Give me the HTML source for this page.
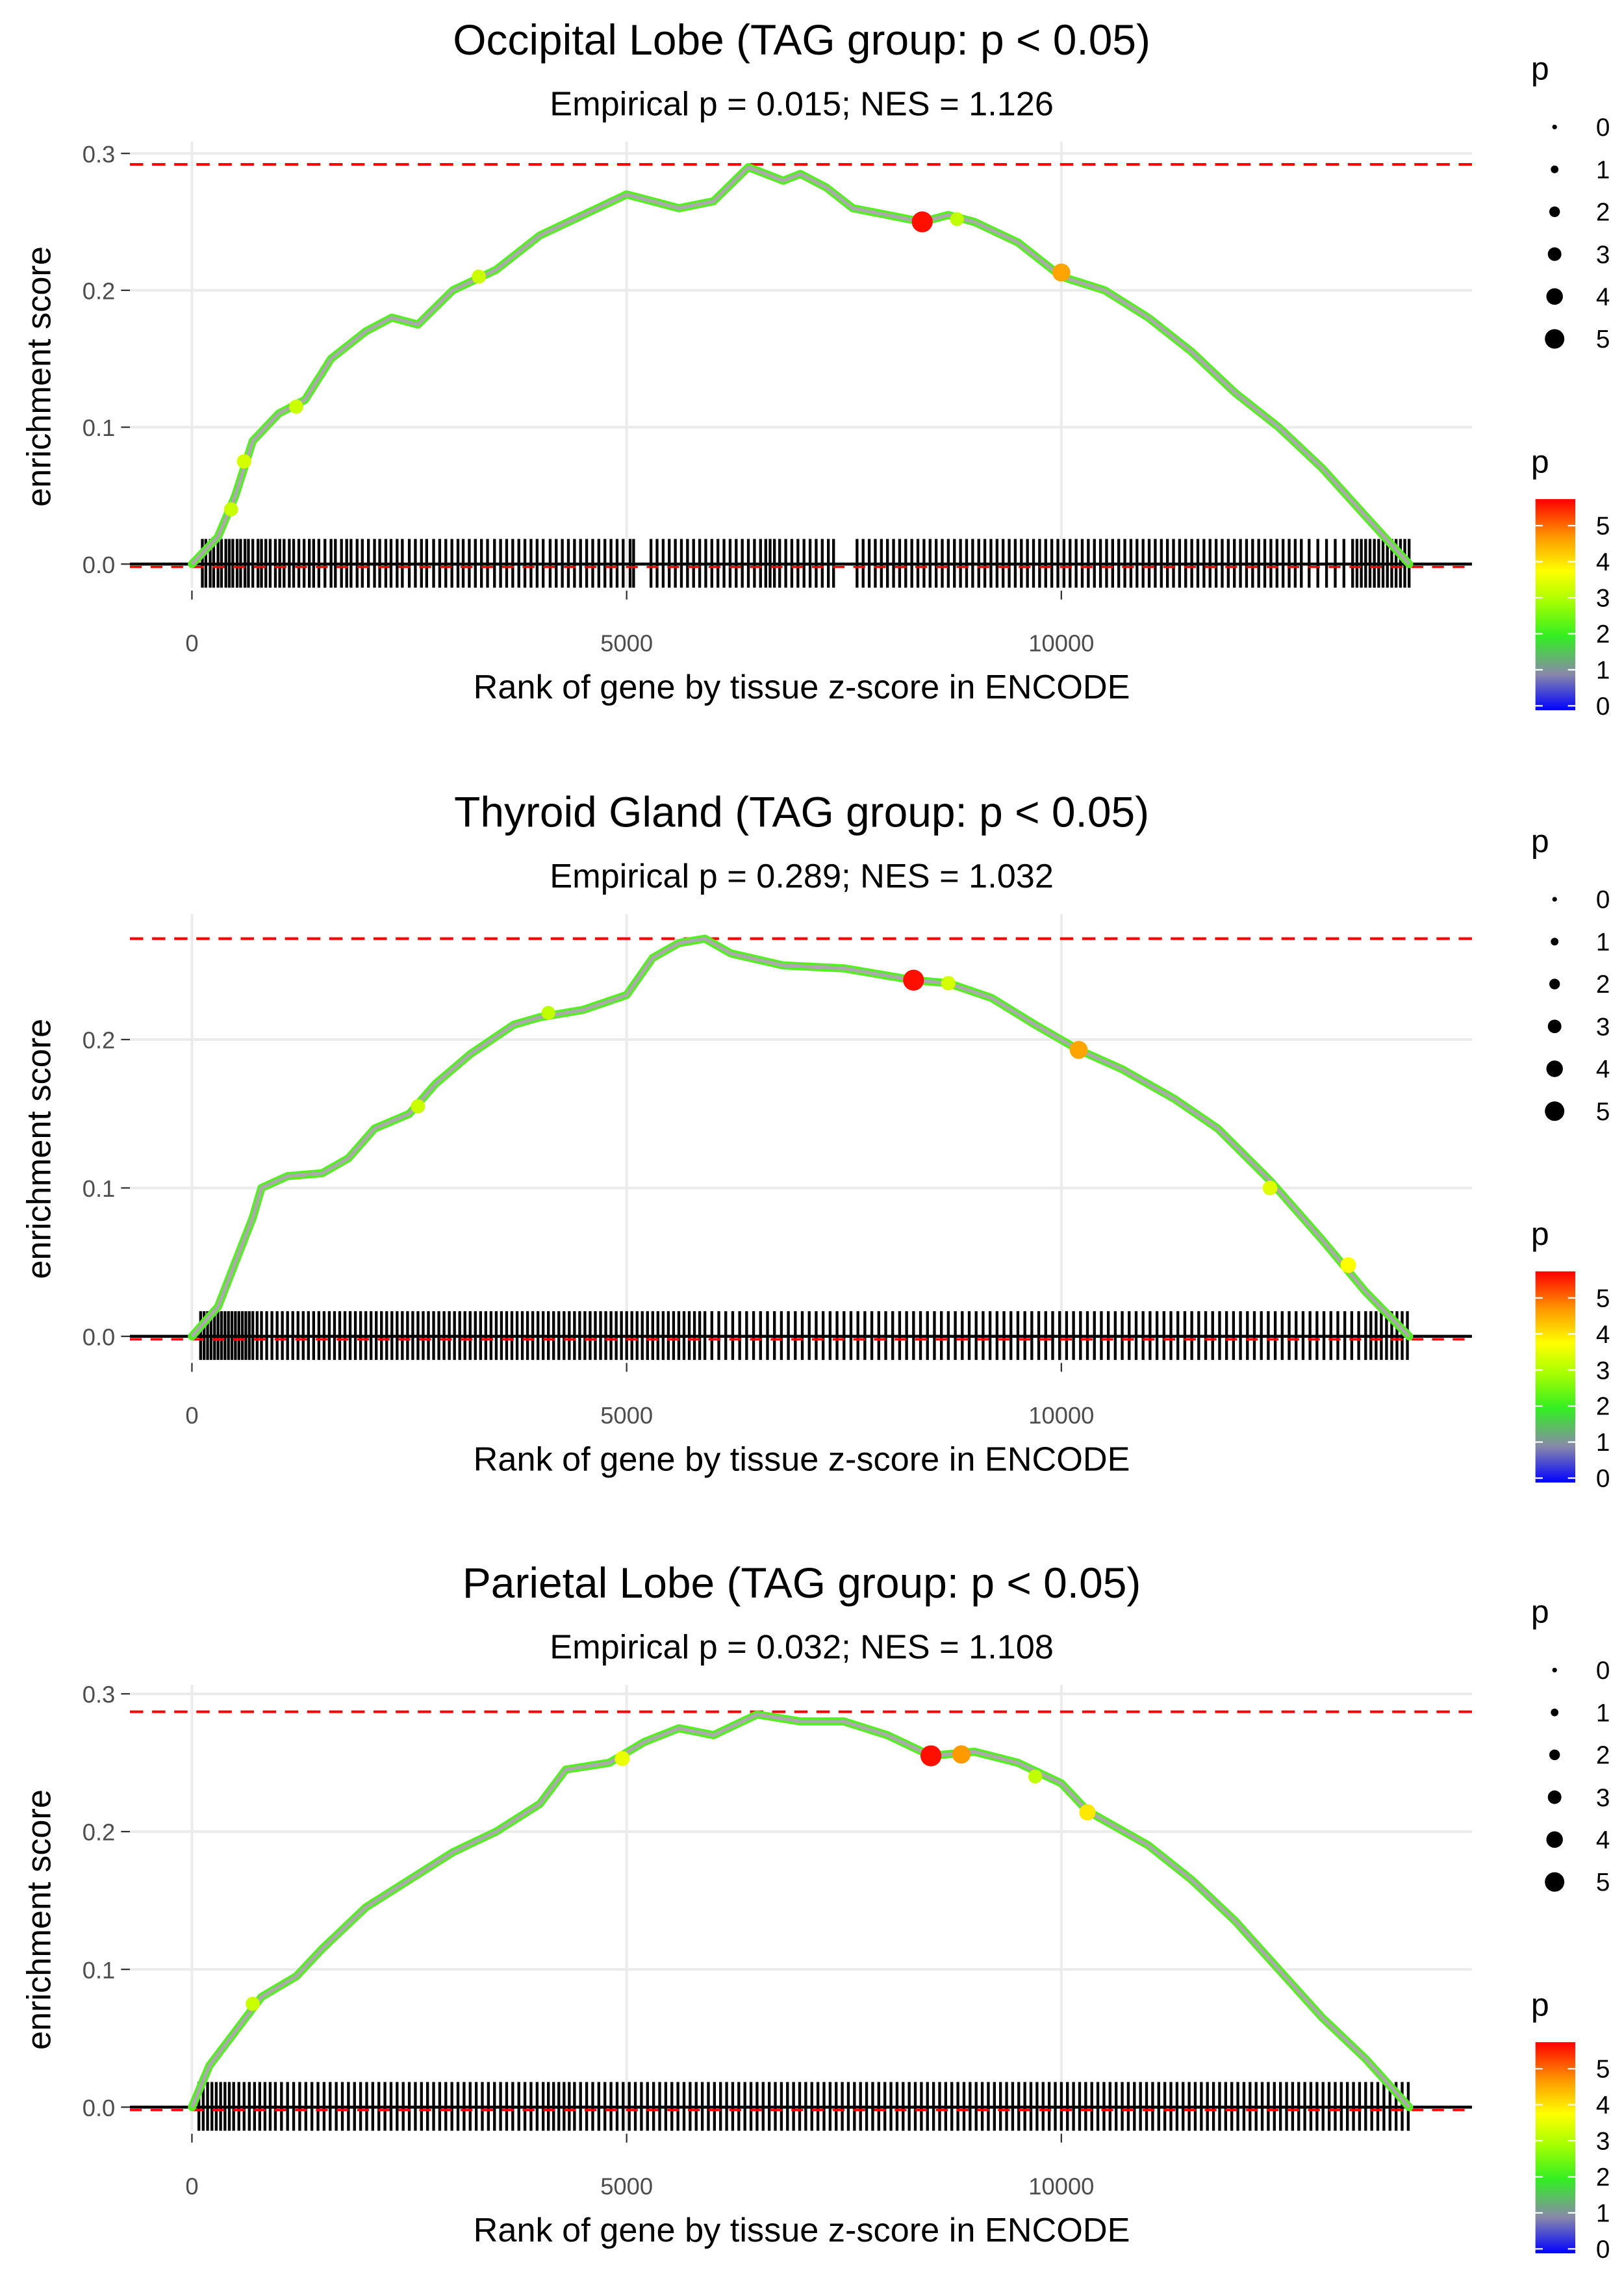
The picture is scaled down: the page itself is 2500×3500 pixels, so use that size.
<!DOCTYPE html>
<html><head><meta charset="utf-8">
<style>
html,body{margin:0;padding:0;background:#fff;}
svg{display:block;font-family:"Liberation Sans",Arial,sans-serif;}
</style></head>
<body>
<svg id="fig" xmlns="http://www.w3.org/2000/svg" width="2500" height="3500" viewBox="0 0 1100 1540">
<defs>
<linearGradient id="pgrad" x1="0" y1="1" x2="0" y2="0">
<stop offset="0" stop-color="#0000ff"/>
<stop offset="0.17" stop-color="#8888aa"/>
<stop offset="0.35" stop-color="#33ee22"/>
<stop offset="0.52" stop-color="#aaff00"/>
<stop offset="0.66" stop-color="#ffff00"/>
<stop offset="0.82" stop-color="#ff9900"/>
<stop offset="1" stop-color="#ff0000"/>
</linearGradient>
</defs>
</svg>
<script>
// ---- data ----
const titles = ["Occipital Lobe (TAG group: p < 0.05)","Thyroid Gland (TAG group: p < 0.05)","Parietal Lobe (TAG group: p < 0.05)"];
const subtitles = ["Empirical p = 0.015; NES = 1.126","Empirical p = 0.289; NES = 1.032","Empirical p = 0.032; NES = 1.108"];
const xTicks = [0,5000,10000];
const yTicks = [0,0.1,0.2,0.3];
const yTickLabels = ["0.0","0.1","0.2","0.3"];
const maxES = [0.292,0.268,0.287];

const ranks1 = [0,300,500,700,1000,1300,1600,2000,2300,2600,3000,3500,4000,4500,5000,5300,5600,6000,6400,6800,7000,7300,7600,8000,8400,8700,9000,9500,10000,10500,11000,11500,12000,12500,13000,13500,14000];
const es1 =    [0,0.02,0.05,0.09,0.11,0.12,0.15,0.17,0.18,0.175,0.2,0.215,0.24,0.255,0.27,0.265,0.26,0.265,0.29,0.28,0.285,0.275,0.26,0.255,0.25,0.255,0.25,0.235,0.21,0.2,0.18,0.155,0.125,0.1,0.07,0.035,0];
const ranks2 = [0,300,500,700,800,1100,1500,1800,2100,2500,2800,3200,3700,4000,4500,5000,5300,5600,5900,6200,6800,7500,8000,8300,8700,9200,9700,10200,10700,11300,11800,12400,13000,13500,14000];
const es2 =    [0,0.02,0.05,0.08,0.1,0.108,0.11,0.12,0.14,0.15,0.17,0.19,0.21,0.215,0.22,0.23,0.255,0.265,0.268,0.258,0.25,0.248,0.243,0.24,0.238,0.228,0.21,0.193,0.18,0.16,0.14,0.105,0.065,0.03,0];
const ranks3 = [0,200,500,800,1200,1500,2000,2500,3000,3500,4000,4300,4800,5200,5600,6000,6500,7000,7500,8000,8500,9000,9500,10000,10300,11000,11500,12000,12500,13000,13500,14000];
const es3 =    [0,0.03,0.055,0.08,0.095,0.115,0.145,0.165,0.185,0.2,0.22,0.245,0.25,0.265,0.275,0.27,0.285,0.28,0.28,0.27,0.255,0.258,0.25,0.235,0.215,0.19,0.165,0.135,0.1,0.065,0.035,0];

const hiRank1 = [8400,10000,600,1200,3300,8800,450];
const hiEs1 =   [0.25,0.213,0.075,0.115,0.21,0.252,0.04];
const hiP1 =    [5.6,4.6,3.4,3.3,3.3,3.2,3.3];
const hiRank2 = [8300,10200,12400,13300,8700,4100,2600];
const hiEs2 =   [0.24,0.193,0.1,0.048,0.238,0.218,0.155];
const hiP2 =    [5.6,4.6,3.5,3.8,3.4,3.2,3.3];
const hiRank3 = [8500,8850,4950,10300,700,9700];
const hiEs3 =   [0.255,0.256,0.253,0.214,0.075,0.24];
const hiP3 =    [5.6,4.7,3.6,4.0,3.3,3.2];

const rug1 = [120,160,210,250,300,340,390,430,470,520,560,610,650,700,760,800,850,900,960,1010,1060,1120,1170,1230,1290,1350,1400,1460,1530,1600,1650,1720,1780,1830,1900,1960,2030,2100,2160,2230,2290,2360,2420,2500,2570,2640,2700,2780,2850,2920,2990,3060,3120,3190,3260,3330,3400,3480,3550,3620,3690,3760,3830,3900,3970,4040,4120,4190,4260,4330,4400,4470,4540,4610,4680,4750,4820,4890,4960,5040,5080,5280,5350,5420,5490,5560,5630,5700,5770,5840,5910,5980,6050,6120,6190,6260,6330,6400,6470,6540,6600,6650,6700,6760,6830,6900,6970,7040,7110,7180,7250,7320,7380,7650,7720,7790,7860,7930,8000,8070,8140,8210,8280,8350,8420,8490,8560,8630,8700,8770,8840,8910,8980,9050,9120,9190,9260,9330,9400,9470,9540,9610,9680,9750,9820,9890,9960,10030,10100,10170,10240,10310,10380,10450,10520,10590,10660,10730,10800,10870,10940,11010,11080,11150,11220,11290,11360,11430,11500,11570,11640,11710,11780,11850,11920,11990,12060,12130,12200,12270,12340,12410,12480,12550,12620,12690,12760,12850,12950,13050,13150,13250,13350,13400,13450,13500,13550,13600,13650,13700,13750,13800,13850,13900,13950,14000];
const rug2 = [100,140,180,220,260,300,340,380,420,460,500,540,580,620,660,700,750,800,860,920,980,1040,1100,1160,1220,1280,1340,1400,1460,1520,1580,1640,1700,1760,1820,1880,1940,2000,2060,2120,2180,2240,2300,2360,2420,2480,2540,2600,2660,2720,2780,2840,2900,2960,3020,3080,3140,3200,3260,3320,3380,3440,3500,3560,3620,3680,3740,3800,3860,3920,3980,4040,4100,4160,4220,4280,4340,4400,4460,4520,4580,4640,4700,4760,4820,4880,4940,5000,5060,5120,5180,5240,5300,5360,5420,5480,5540,5600,5660,5720,5780,5840,5900,5980,6060,6140,6220,6300,6380,6460,6540,6620,6700,6780,6860,6940,7020,7100,7180,7260,7340,7420,7500,7580,7660,7740,7820,7900,7980,8060,8140,8220,8300,8380,8460,8540,8620,8700,8780,8860,8940,9020,9100,9180,9260,9340,9420,9500,9580,9660,9740,9820,9900,9980,10060,10140,10220,10300,10380,10460,10540,10620,10700,10780,10860,10940,11020,11100,11180,11260,11340,11420,11500,11580,11660,11740,11820,11900,11980,12060,12140,12220,12300,12380,12460,12540,12620,12700,12780,12860,12940,13020,13100,13180,13260,13340,13420,13500,13560,13620,13680,13740,13800,13860,13920,13980];
const rug3 = [80,130,180,230,280,330,380,430,480,540,600,660,720,780,840,900,960,1030,1100,1170,1240,1310,1380,1450,1520,1590,1660,1730,1800,1870,1940,2010,2080,2150,2220,2290,2360,2430,2500,2570,2640,2710,2780,2850,2920,2990,3060,3130,3200,3270,3340,3410,3480,3550,3620,3690,3760,3830,3900,3970,4040,4100,4160,4220,4280,4340,4400,4470,4540,4610,4680,4750,4820,4890,4960,5030,5100,5170,5240,5310,5380,5450,5520,5590,5660,5730,5800,5870,5940,6010,6080,6150,6220,6290,6360,6430,6500,6570,6640,6710,6780,6850,6920,6990,7060,7130,7200,7270,7340,7410,7480,7550,7620,7690,7760,7830,7900,7970,8040,8110,8180,8250,8320,8390,8460,8530,8600,8670,8740,8810,8880,8950,9020,9090,9160,9230,9300,9370,9440,9510,9580,9650,9720,9790,9860,9930,10000,10070,10140,10210,10280,10350,10420,10490,10560,10630,10700,10770,10840,10910,10980,11050,11120,11190,11260,11330,11400,11470,11540,11610,11680,11750,11820,11890,11960,12030,12100,12170,12240,12310,12380,12450,12520,12590,12660,12730,12800,12870,12940,13010,13080,13150,13220,13290,13360,13430,13500,13570,13640,13710,13780,13850,13920,13990];

const sizeLegendVals = [0,1,2,3,4,5];
const colorLegendVals = [0,1,2,3,4,5];

// ---- layout ----
const panels = [
  {dy:0,    y0:382,  per:927, ranks:ranks1, es:es1, hr:hiRank1, he:hiEs1, hp:hiP1, rug:rug1, ymax:0.3},
  {dy:523,  y0:905,  per:1005, ranks:ranks2, es:es2, hr:hiRank2, he:hiEs2, hp:hiP2, rug:rug2, ymax:0.2},
  {dy:1045, y0:1427, per:933, ranks:ranks3, es:es3, hr:hiRank3, he:hiEs3, hp:hiP3, rug:rug3, ymax:0.3}
];
const xScale = r => 130 + r*0.05889;
const NS = "http://www.w3.org/2000/svg";
const svg = document.getElementById('fig');
function mk(tag, attrs, parent, text){
  const e = document.createElementNS(NS, tag);
  for (const k in attrs) e.setAttribute(k, attrs[k]);
  if (text !== undefined) e.textContent = text;
  (parent||svg).appendChild(e);
  return e;
}
function pColor(p){
  const stops=[[0,[0,0,255]],[1,[136,136,170]],[2,[51,238,34]],[3,[170,255,0]],[3.8,[255,255,0]],[4.7,[255,153,0]],[5.7,[255,0,0]]];
  if(p<=0) return 'rgb(0,0,255)';
  for(let i=1;i<stops.length;i++){ if(p<=stops[i][0]){const a=stops[i-1],b=stops[i];const t=(p-a[0])/(b[0]-a[0]);const c=a[1].map((v,j)=>Math.round(v+(b[1][j]-v)*t));return `rgb(${c})`;} }
  return 'rgb(255,0,0)';
}

panels.forEach((P, pi) => {
  const g = mk('g', {});
  
  
  const ys = v => P.y0 - v*P.per;
  const top = P.dy + 96, bot = P.dy + 398;
  xTicks.forEach(t => {
    const l = mk('line', {x1:xScale(t), x2:xScale(t), y1:top, y2:bot, stroke:'#ebebeb', 'stroke-width':1.8}, g);
    
    
  });
  yTicks.forEach((t,i) => {
    if (t > P.ymax + 1e-9) return;
    const l = mk('line', {x1:88, x2:997, y1:ys(t), y2:ys(t), stroke:'#ebebeb', 'stroke-width':1.8}, g);
    
    
    mk('line', {x1:82, x2:88, y1:ys(t), y2:ys(t), stroke:'#333', 'stroke-width':1}, g);
    const tl = mk('text', {x:78, y:ys(t)+6, 'text-anchor':'end', 'font-size':16, fill:'#4d4d4d'}, g, yTickLabels[i]);
    
    
  });
  xTicks.forEach(t => {
    mk('line', {x1:xScale(t), x2:xScale(t), y1:bot+2, y2:bot+8, stroke:'#333', 'stroke-width':1}, g);
    const tl = mk('text', {x:xScale(t), y:P.dy+441, 'text-anchor':'middle', 'font-size':16, fill:'#4d4d4d'}, g, String(t));
    
    
  });
  const rg = mk('g', {stroke:'#000', 'stroke-width':1.9}, g);
  
  
  P.rug.forEach(r => {
    const l = mk('line', {x1:xScale(r), x2:xScale(r), y1:P.y0-17, y2:P.y0+16}, rg);
    
    
  });
  const z = mk('line', {x1:88, x2:997, y1:P.y0, y2:P.y0, stroke:'#000', 'stroke-width':2}, g);
  
  
  mk('line', {x1:88, x2:997, y1:P.y0+2, y2:P.y0+2, stroke:'#ff0000', 'stroke-width':1.5, 'stroke-dasharray':'8,6'}, g);
  const mx = mk('line', {x1:88, x2:997, y1:ys(maxES[pi]), y2:ys(maxES[pi]), stroke:'#ff0000', 'stroke-width':1.8, 'stroke-dasharray':'9,6'}, g);
  
  
  const pts = P.ranks.map((r,i) => xScale(r).toFixed(1)+','+ys(P.es[i]).toFixed(1)).join(' ');
  const c1 = mk('polyline', {points:pts, fill:'none', stroke:'#55ee22', 'stroke-width':5.5, 'stroke-linejoin':'round', 'stroke-linecap':'round'}, g);
  
  
  const c2 = mk('polyline', {points:pts, fill:'none', stroke:'#aaaaaa', 'stroke-width':2.4, 'stroke-linejoin':'round'}, g);
  
  
  P.hr.forEach((r,i) => {
    const c = mk('circle', {cx:xScale(r), cy:ys(P.he[i]), r:1.5+P.hp[i]*1.0, fill:pColor(P.hp[i])}, g);
    
    
  });
  const t1 = mk('text', {x:543, y:P.dy+37, 'text-anchor':'middle', 'font-size':29, fill:'#000'}, g, titles[pi]);
  
  
  const t2 = mk('text', {x:543, y:P.dy+78, 'text-anchor':'middle', 'font-size':23, fill:'#000'}, g, subtitles[pi]);
  
  
  const xa = mk('text', {x:543, y:P.dy+473, 'text-anchor':'middle', 'font-size':23, fill:'#000'}, g, 'Rank of gene by tissue z-score in ENCODE');
  
  
  const ya = mk('text', {x:0, y:0, 'text-anchor':'middle', 'font-size':23, fill:'#000', transform:`translate(34,${P.dy+255}) rotate(-90)`}, g, 'enrichment score');
  
  
  const lg = mk('g', {}, g);
  
  
  mk('text', {x:1037, y:P.dy+54, 'font-size':22, fill:'#000'}, lg, 'p');
  sizeLegendVals.forEach((v,i) => {
    const cy = P.dy + 86 + i*28.7;
    const c = mk('circle', {cx:1053, cy:cy, r:1.6+v*1.0, fill:'#000'}, lg);
    
    
    mk('text', {x:1081, y:cy+6, 'font-size':17, fill:'#000'}, lg, String(v));
  });
  const cg = mk('g', {}, g);
  
  
  mk('text', {x:1037, y:P.dy+320, 'font-size':22, fill:'#000'}, cg, 'p');
  const bar = mk('rect', {x:1040, y:P.dy+338, width:27, height:143, fill:'url(#pgrad)'}, cg);
  
  
  colorLegendVals.forEach(v => {
    const yy = P.dy + 478 - v*24.4;
    mk('line', {x1:1040, x2:1045, y1:yy, y2:yy, stroke:'#fff', 'stroke-width':1}, cg);
    mk('line', {x1:1062, x2:1067, y1:yy, y2:yy, stroke:'#fff', 'stroke-width':1}, cg);
    mk('text', {x:1081, y:yy+6, 'font-size':17, fill:'#000'}, cg, String(v));
  });
});
</script>
</body></html>
